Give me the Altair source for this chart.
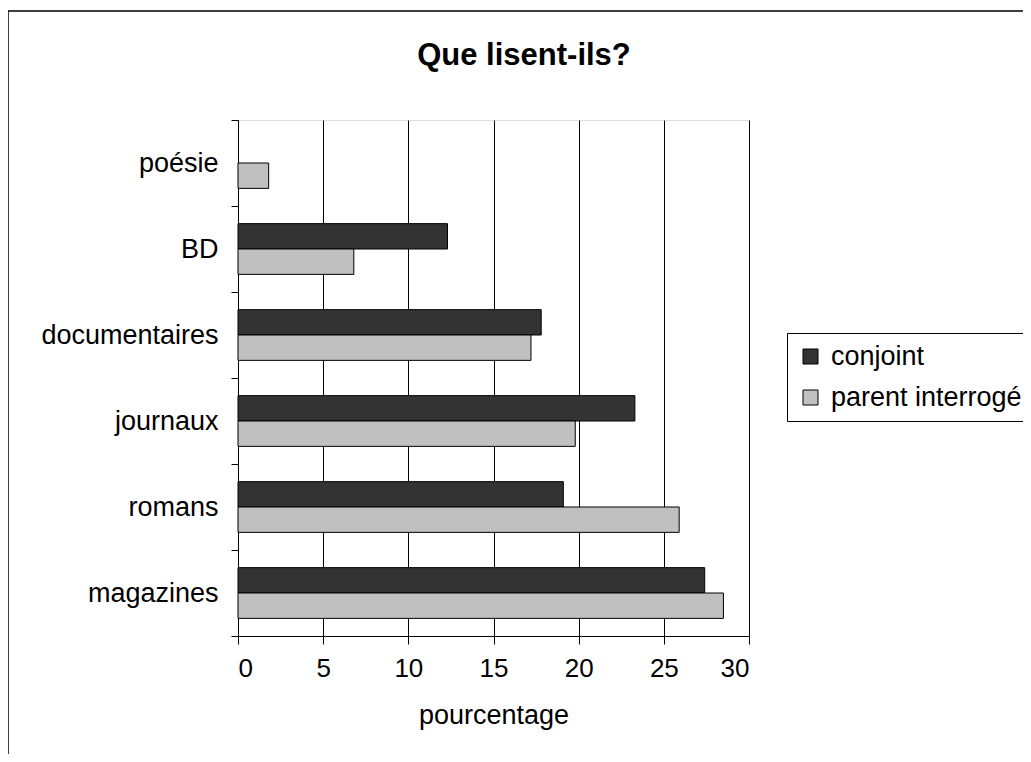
import altair as alt
import pandas as pd

categories = ["poésie", "BD", "documentaires", "journaux", "romans", "magazines"]
conjoint = [None, 12.3, 17.8, 23.3, 19.1, 27.4]
parent_interroge = [1.8, 6.8, 17.2, 19.8, 25.9, 28.5]
series = ["conjoint", "parent interrogé"]
colors = ["#333333", "#C0C0C0"]
x_ticks = [0, 5, 10, 15, 20, 25, 30]
chart_title = "Que lisent-ils?"

rows = []
for cat, a, b in zip(categories, conjoint, parent_interroge):
    if a is not None:
        rows.append({"categorie": cat, "serie": series[0], "valeur": a})
    if b is not None:
        rows.append({"categorie": cat, "serie": series[1], "valeur": b})
df = pd.DataFrame(rows)

FONT = "Liberation Sans"

bars = alt.Chart(df).mark_bar(stroke="black", strokeWidth=1).encode(
    x=alt.X(
        "valeur:Q",
        scale=alt.Scale(domain=[0, 30], nice=False, zero=True),
        axis=alt.Axis(
            values=x_ticks, title="pourcentage", grid=True, gridColor="black",
            gridWidth=1, gridOpacity=1, domainColor="black", tickColor="black",
            tickSize=8, labelFontSize=26, labelPadding=11, titleFontSize=27,
            titleFontWeight="normal", titlePadding=21, labelColor="black",
            titleColor="black", labelFont=FONT, titleFont=FONT,
        ),
    ),
    y=alt.Y(
        "categorie:N",
        sort=categories,
        scale=alt.Scale(paddingInner=0, paddingOuter=0),
        axis=alt.Axis(
            title=None, tickBand="extent", domainColor="black", tickColor="black",
            tickSize=7, labelFontSize=27, labelPadding=13, labelColor="black",
            labelFont=FONT, grid=False, labelLimit=400,
        ),
    ),
    yOffset=alt.YOffset("serie:N", sort=series,
                        scale=alt.Scale(paddingInner=0, paddingOuter=0.695)),
    color=alt.Color(
        "serie:N",
        sort=series,
        scale=alt.Scale(domain=series, range=colors),
        legend=alt.Legend(
            title=None, orient="none", legendX=549, legendY=213,
            direction="vertical", strokeColor="black", padding=10,
            symbolType="square", symbolSize=225, symbolStrokeColor="black",
            symbolStrokeWidth=1, symbolOpacity=1, labelFontSize=27,
            labelFont=FONT, labelColor="black", labelOffset=7,
            rowPadding=13, labelLimit=400,
        ),
    ),
)

border = alt.Chart(pd.DataFrame({"k": [0]})).mark_rect(
    fill="transparent", stroke="black", strokeWidth=1.5
).encode(
    x=alt.value(-230), x2=alt.value(802), y=alt.value(-109), y2=alt.value(700)
)

title = alt.Chart(pd.DataFrame({"t": [chart_title]})).mark_text(
    font=FONT, fontSize=31, fontWeight="bold", color="black",
    align="center", baseline="alphabetic",
).encode(text="t:N", x=alt.value(286), y=alt.value(-55))

chart = alt.layer(border, bars, title).properties(
    width=511,
    height=516,
    autosize=alt.AutoSizeParams(type="none"),
    padding={"left": 230, "top": 112, "right": 274, "bottom": 118},
).configure_view(stroke="#808080", strokeWidth=1).configure(font=FONT)

chart.save("out.html", embed_options={"renderer": "svg", "actions": False})
